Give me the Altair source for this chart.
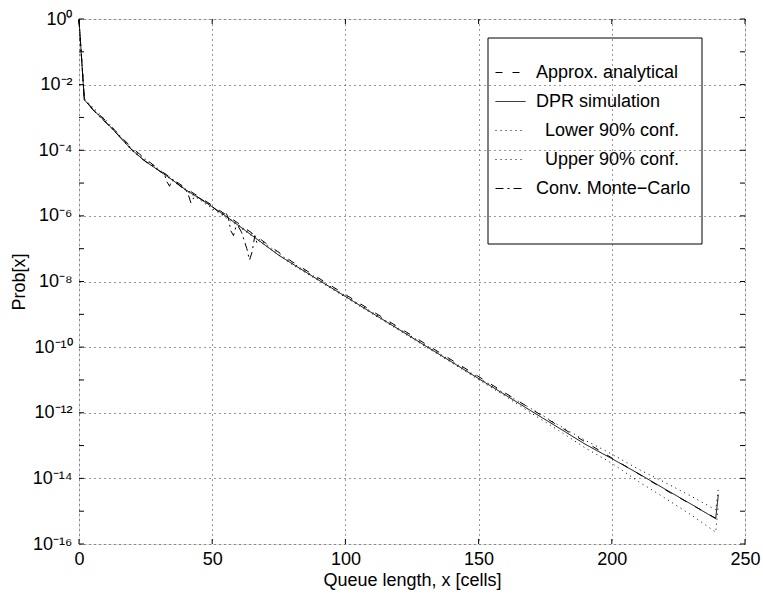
import altair as alt
import pandas as pd

# ---------------- data ----------------
# lower/upper labels are indented in the reference legend (zero-width space keeps the en-space)
series_names = ["Approx. analytical", "DPR simulation", "\u200b\u2002Lower 90% conf.",
                "\u200b\u2002Upper 90% conf.", "Conv. Monte\u2212Carlo"]

x_analytical = [0, 2, 5, 10, 15, 20, 30, 40, 50, 60, 70, 80, 100, 120, 140,
                160, 180, 200, 220, 240]
p_analytical = [0.95, 3.6e-3, 1.9e-3, 8.0e-4, 3.0e-4, 1.15e-4, 2.6e-5, 7.0e-6,
                2.1e-6, 5.8e-7, 1.5e-7, 4.0e-8, 4.0e-9, 4.0e-10, 4.0e-11,
                4.0e-12, 4.0e-13, 4.2e-14, 4.5e-15, 5.5e-16]

x_dpr = [0, 2, 5, 8, 12, 16, 20, 25, 30, 35, 40, 45, 50, 55, 60, 65, 70, 75,
         80, 90, 100, 110, 120, 130, 140, 150, 160, 170, 180, 190, 200, 210,
         220, 230, 239, 240]
p_dpr = [0.95, 3.5e-3, 1.8e-3, 1.05e-3, 5.0e-4, 2.2e-4, 1.0e-4, 4.5e-5,
         2.4e-5, 1.25e-5, 6.3e-6, 3.5e-6, 1.9e-6, 1.0e-6, 5.0e-7, 2.5e-7,
         1.26e-7, 6.3e-8, 3.5e-8, 1.1e-8, 3.5e-9, 1.1e-9, 3.5e-10, 1.1e-10,
         3.5e-11, 1.1e-11, 3.5e-12, 1.1e-12, 3.5e-13, 1.1e-13, 4.0e-14,
         1.4e-14, 4.7e-15, 1.6e-15, 5.9e-16, 3.2e-15]

x_conf = [0, 2, 10, 20, 40, 60, 80, 100, 120, 140, 150, 160, 170, 180, 190,
          200, 210, 220, 230, 239, 240]
p_lower = [0.93, 3.3e-3, 7.6e-4, 9.5e-5, 6.0e-6, 4.7e-7, 3.3e-8, 3.3e-9,
           3.3e-10, 3.3e-11, 1.02e-11, 3.2e-12, 9.5e-13, 2.9e-13, 8.5e-14,
           2.9e-14, 8.0e-15, 2.5e-15, 7.5e-16, 2.3e-16, 1.5e-15]
p_upper = [0.97, 3.7e-3, 8.4e-4, 1.05e-4, 6.6e-6, 5.3e-7, 3.7e-8, 3.7e-9,
           3.7e-10, 3.7e-11, 1.18e-11, 3.8e-12, 1.3e-12, 4.2e-13, 1.45e-13,
           5.5e-14, 1.9e-14, 7.5e-15, 2.8e-15, 1.1e-15, 5.0e-15]

x_mc = [0, 2, 5, 8, 12, 16, 20, 24, 28, 30, 32, 33, 34, 35, 36, 38, 40, 41,
        42, 43, 44, 46, 48, 50, 52, 54, 55, 56, 57, 58, 59, 60, 61, 62, 63,
        64, 65, 66, 67]
p_mc = [0.95, 3.5e-3, 1.8e-3, 1.0e-3, 5.0e-4, 2.3e-4, 1.0e-4, 5.2e-5, 3.2e-5,
        2.4e-5, 1.9e-5, 1.1e-5, 8.0e-6, 1.3e-5, 1.1e-5, 8.0e-6, 6.3e-6,
        4.5e-6, 2.5e-6, 3.5e-6, 4.0e-6, 3.2e-6, 2.5e-6, 1.9e-6, 1.4e-6,
        1.1e-6, 1.3e-6, 9.0e-7, 3.5e-7, 2.5e-7, 5.0e-7, 4.5e-7, 3.2e-7,
        1.8e-7, 1.0e-7, 4.5e-8, 8.0e-8, 2.5e-7, 1.3e-7]

x_ticks = [0, 50, 100, 150, 200, 250]
y_grid = [1e0, 1e-2, 1e-4, 1e-6, 1e-8, 1e-10, 1e-12, 1e-14, 1e-16]
y_labels = ["10\u2070", "10\u207b\u00b2", "10\u207b\u2074", "10\u207b\u2076",
            "10\u207b\u2078", "10\u207b\u00b9\u2070", "10\u207b\u00b9\u00b2",
            "10\u207b\u00b9\u2074", "10\u207b\u00b9\u2076"]
y_minor = [1e0, 1e-1, 1e-2, 1e-3, 1e-4, 1e-5, 1e-6, 1e-7, 1e-8, 1e-9, 1e-10,
           1e-11, 1e-12, 1e-13, 1e-14, 1e-15, 1e-16]

dashes = [[7, 10], [1, 0], [1, 4], [1, 4], [8, 4, 2, 4]]

# ---------------- build table ----------------
rows = []
for name, xs, ps in [
    (series_names[2], x_conf, p_lower),
    (series_names[3], x_conf, p_upper),
    (series_names[0], x_analytical, p_analytical),
    (series_names[4], x_mc, p_mc),
    (series_names[1], x_dpr, p_dpr),
]:
    rows += [{"series": name, "x": a, "p": b} for a, b in zip(xs, ps)]
df = pd.DataFrame(rows)

W, H = 666, 525
FONT = "Liberation Sans"
XTITLE = "Queue length, x [cells]"
YTITLE = "Prob[x]"

xscale = alt.Scale(domain=[0, 250], nice=False, zero=False)
yscale = alt.Scale(type="log", domain=[1e-16, 1], nice=False)

label_expr = "[" + ",".join("'%s'" % s for s in y_labels) + "][round(-log(datum.value)/LN10/2)]"

x_axis = alt.Axis(values=x_ticks, title=XTITLE,
                  grid=True, gridDash=[1, 4], gridColor="#333",
                  ticks=False, tickSize=0, domain=False,
                  labelFontSize=18, labelPadding=6, labelFont=FONT,
                  labelColor="black", labelFlush=False,
                  titleFontSize=18, titleFont=FONT, titlePadding=3,
                  titleFontWeight="normal", titleColor="black")
y_axis = alt.Axis(values=y_grid, labelExpr=label_expr, title=YTITLE,
                  grid=True, gridDash=[1, 4], gridColor="#333",
                  ticks=False, tickSize=0, domain=False,
                  labelFontSize=18, labelPadding=7, labelFont=FONT,
                  labelColor="black", labelFlush=False,
                  titleFontSize=18, titleFont=FONT, titlePadding=4,
                  titleFontWeight="normal", titleColor="black")

lines = alt.Chart(df).mark_line(color="black", strokeWidth=1).encode(
    x=alt.X("x:Q", scale=xscale, axis=x_axis),
    y=alt.Y("p:Q", scale=yscale, axis=y_axis),
    strokeDash=alt.StrokeDash(
        "series:N",
        scale=alt.Scale(domain=series_names, range=dashes),
        legend=alt.Legend(orient="none", legendX=416, legendY=38, title=None,
                          padding=0, symbolType="stroke", symbolSize=900,
                          symbolStrokeColor="black", symbolStrokeWidth=1,
                          labelFontSize=18, labelFont=FONT, labelColor="black",
                          labelOffset=10, rowPadding=4, labelLimit=400)),
    detail="series:N",
)

tick_x = pd.DataFrame({"x": x_ticks})
xt_bottom = alt.Chart(tick_x).mark_rule(color="black").encode(
    x=alt.X("x:Q", scale=xscale, title=XTITLE), y=alt.value(H), y2=alt.value(H - 5))
xt_top = alt.Chart(tick_x).mark_rule(color="black").encode(
    x=alt.X("x:Q", scale=xscale, title=XTITLE), y=alt.value(0), y2=alt.value(5))

tick_y = pd.DataFrame({"p": y_minor})
yt_left = alt.Chart(tick_y).mark_rule(color="black").encode(
    y=alt.Y("p:Q", scale=yscale, title=YTITLE), x=alt.value(0), x2=alt.value(5))
yt_right = alt.Chart(tick_y).mark_rule(color="black").encode(
    y=alt.Y("p:Q", scale=yscale, title=YTITLE), x=alt.value(W), x2=alt.value(W - 5))

box = alt.Chart(pd.DataFrame({"a": [0]})).mark_rect(
    filled=False, stroke="black", strokeWidth=1).encode(
    x=alt.value(409), x2=alt.value(623), y=alt.value(19), y2=alt.value(225))

chart = alt.layer(lines, xt_bottom, xt_top, yt_left, yt_right, box).properties(
    width=W, height=H,
    padding={"left": 79, "top": 19, "right": 18, "bottom": 50},
    autosize=alt.AutoSizeParams(type="none"),
).configure_view(stroke="black", strokeWidth=1).configure(background="white")

chart.save("out.html", embed_options={"renderer": "svg", "actions": False})
